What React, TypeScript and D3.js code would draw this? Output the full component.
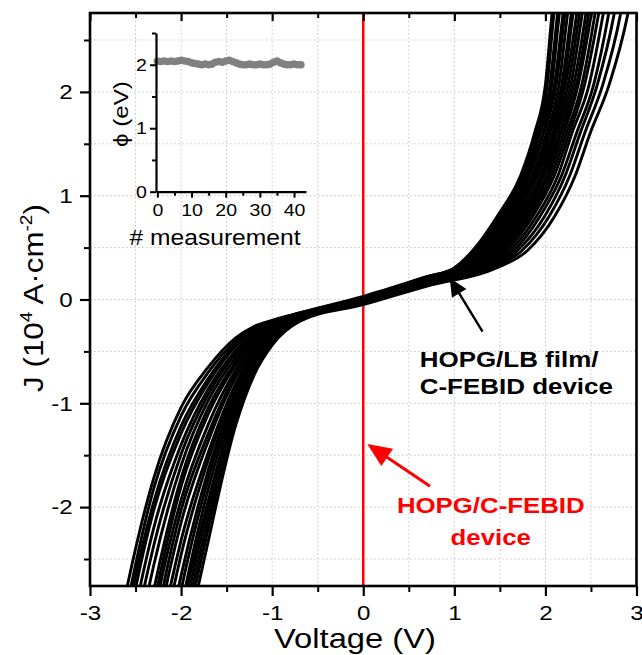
import React, { useEffect, useRef } from "react";
import * as d3 from "d3";

const W = 642;
const H = 655;
const FONT = "'Liberation Sans', Arial, Helvetica, sans-serif";
const SX = 1.15; // the figure's lettering is a bit wide

// main axes
const xMajor = [-3, -2, -1, 0, 1, 2, 3];
const xMinor = [-2.5, -1.5, -0.5, 0.5, 1.5, 2.5];
const yMajor = [-2, -1, 0, 1, 2];
const yMinor = [-2.5, -1.5, -0.5, 0.5, 1.5, 2.5];
const xGrid = [-2.5, -2, -1.5, -1, -0.5, 0, 0.5, 1, 1.5, 2, 2.5];
const yGrid = [-2.5, -2, -1.5, -1, -0.5, 0, 0.5, 1, 1.5, 2, 2.5];

// I-V sweeps: negative branch + middle read at these voltages (V)
const vGrid = [-2.9, -2.6, -2.3, -2.0, -1.7, -1.4, -1.2, -1.0, -0.7, 0, 0.7];
// J (10^4 A/cm2) of each sweep at vGrid
const negJ = [
  [-4.2, -2.8, -1.72, -1.04, -0.65, -0.37, -0.26, -0.2, -0.13, 0.02, 0.22],
  [-4.44, -2.98, -1.82, -1.12, -0.7, -0.4, -0.27, -0.21, -0.13, 0.03, 0.22],
  [-4.74, -3.1, -1.95, -1.22, -0.76, -0.43, -0.29, -0.22, -0.14, 0.01, 0.21],
  [-4.92, -3.24, -2.03, -1.29, -0.8, -0.45, -0.3, -0.22, -0.14, 0.0, 0.21],
  [-5.22, -3.46, -2.2, -1.4, -0.86, -0.49, -0.32, -0.23, -0.15, 0.01, 0.2],
  [-5.46, -3.66, -2.37, -1.49, -0.91, -0.52, -0.34, -0.24, -0.15, -0.01, 0.2],
  [-5.7, -3.9, -2.56, -1.6, -0.97, -0.56, -0.36, -0.25, -0.16, 0.0, 0.2],
  [-6.0, -4.2, -2.8, -1.72, -1.04, -0.6, -0.38, -0.26, -0.16, -0.02, 0.19],
  [-6.18, -4.38, -2.94, -1.8, -1.1, -0.63, -0.4, -0.26, -0.16, -0.01, 0.2],
  [-6.48, -4.68, -3.06, -1.93, -1.2, -0.68, -0.43, -0.28, -0.17, -0.02, 0.19],
  [-6.72, -4.92, -3.24, -2.03, -1.29, -0.72, -0.45, -0.29, -0.17, -0.03, 0.19],
  [-6.9, -5.1, -3.38, -2.15, -1.36, -0.75, -0.47, -0.3, -0.18, -0.02, 0.18],
  [-7.2, -5.4, -3.6, -2.32, -1.47, -0.81, -0.5, -0.31, -0.18, -0.03, 0.18],
  [-7.38, -5.58, -3.78, -2.46, -1.54, -0.84, -0.52, -0.32, -0.18, -0.02, 0.17],
  [-7.62, -5.82, -4.02, -2.66, -1.64, -0.89, -0.55, -0.34, -0.19, -0.04, 0.18],
  [-7.8, -6.0, -4.2, -2.8, -1.72, -0.92, -0.57, -0.35, -0.19, -0.03, 0.16],
  [-8.04, -6.24, -4.44, -2.98, -1.82, -0.97, -0.6, -0.36, -0.19, -0.04, 0.17],
  [-8.28, -6.48, -4.68, -3.06, -1.93, -1.02, -0.63, -0.38, -0.2, -0.03, 0.15],
  [-8.46, -6.66, -4.86, -3.2, -2.0, -1.06, -0.65, -0.4, -0.2, -0.04, 0.16],
  [-8.64, -6.84, -5.04, -3.33, -2.1, -1.11, -0.68, -0.41, -0.2, -0.03, 0.14],
  [-8.82, -7.02, -5.22, -3.46, -2.2, -1.16, -0.71, -0.43, -0.21, -0.04, 0.14],
  [-9.0, -7.2, -5.4, -3.6, -2.32, -1.21, -0.73, -0.44, -0.21, -0.05, 0.13],
];
// positive branch: voltage of each sweep where it reaches these J levels
const jLevels = [0.3, 0.47, 0.8, 1.2, 1.6, 2.07, 2.73, 3.5];
const posV = [
  [1.0, 1.22, 1.49, 1.75, 1.9, 2.02, 2.09, 2.2],
  [0.99, 1.2, 1.47, 1.73, 1.88, 2.0, 2.07, 2.17],
  [1.04, 1.26, 1.53, 1.79, 1.94, 2.07, 2.15, 2.26],
  [1.02, 1.24, 1.51, 1.77, 1.92, 2.05, 2.13, 2.23],
  [1.05, 1.28, 1.56, 1.81, 1.97, 2.1, 2.19, 2.29],
  [1.09, 1.33, 1.6, 1.86, 2.01, 2.15, 2.24, 2.35],
  [1.07, 1.3, 1.58, 1.83, 1.98, 2.12, 2.21, 2.32],
  [1.12, 1.37, 1.65, 1.9, 2.05, 2.2, 2.3, 2.42],
  [1.1, 1.35, 1.63, 1.88, 2.03, 2.18, 2.28, 2.39],
  [1.16, 1.42, 1.7, 1.95, 2.1, 2.25, 2.37, 2.49],
  [1.14, 1.39, 1.67, 1.92, 2.08, 2.22, 2.34, 2.45],
  [1.19, 1.46, 1.75, 1.99, 2.15, 2.31, 2.44, 2.56],
  [1.17, 1.44, 1.72, 1.97, 2.12, 2.28, 2.4, 2.52],
  [1.23, 1.51, 1.8, 2.04, 2.2, 2.36, 2.5, 2.63],
  [1.21, 1.49, 1.77, 2.02, 2.17, 2.34, 2.47, 2.59],
  [1.28, 1.57, 1.86, 2.1, 2.26, 2.43, 2.58, 2.72],
  [1.25, 1.54, 1.83, 2.07, 2.23, 2.4, 2.54, 2.67],
  [1.34, 1.65, 1.94, 2.18, 2.34, 2.53, 2.69, 2.83],
  [1.3, 1.61, 1.9, 2.14, 2.29, 2.48, 2.63, 2.77],
  [1.4, 1.74, 2.04, 2.27, 2.43, 2.63, 2.82, 2.96],
  [1.37, 1.69, 1.99, 2.22, 2.38, 2.57, 2.75, 2.89],
  [1.45, 1.8, 2.1, 2.33, 2.49, 2.7, 2.9, 3.05],
];

// inset: barrier height per measurement
const phi = [
  2.06, 2.05, 2.06, 2.05, 2.06, 2.05, 2.06, 2.07, 2.06, 2.05,
  2.03, 2.02, 2.01, 2.0, 2.01, 2.0, 2.01, 2.04, 2.05, 2.04,
  2.06, 2.07, 2.05, 2.03, 2.01, 2.0, 2.0, 2.01, 2.0, 2.0,
  2.01, 2.0, 2.0, 2.01, 2.04, 2.06, 2.03, 2.01, 2.0, 2.0,
  2.01, 2.0, 2.0,
];
const insetXMajor = [0, 10, 20, 30, 40];
const insetXMinor = [5, 15, 25, 35];
const insetYMajor = [0, 1, 2];
const insetYMinor = [0.5, 1.5, 2.5];

function arrow(g: any, tail: number[], tip: number[], len: number, half: number, color: string, sw: number) {
  const dx = tip[0] - tail[0], dy = tip[1] - tail[1];
  const L = Math.hypot(dx, dy);
  const ux = dx / L, uy = dy / L;
  const bx = tip[0] - ux * len, by = tip[1] - uy * len;
  g.append("line")
    .attr("x1", tail[0]).attr("y1", tail[1])
    .attr("x2", bx + ux * 2).attr("y2", by + uy * 2)
    .attr("stroke", color).attr("stroke-width", sw);
  g.append("path")
    .attr("d", `M${tip[0]},${tip[1]}L${bx - uy * half},${by + ux * half}L${bx + uy * half},${by - ux * half}Z`)
    .attr("fill", color);
}

export default function App() {
  const ref = useRef<SVGSVGElement>(null);

  useEffect(() => {
    const svg = d3.select(ref.current);
    svg.selectAll("*").remove();

    const left = 90, right = 636.5, top = 13, bottom = 586;
    const x = d3.scaleLinear().domain([-3, 3]).range([left, right]);
    const y = d3.scaleLinear().domain([-2.76, 2.76]).range([bottom, top]);

    svg.append("rect").attr("width", W).attr("height", H).attr("fill", "#fff");

    // dotted grid
    const grid = svg.append("g").attr("stroke", "#c4c4c4").attr("stroke-width", 1)
      .attr("stroke-dasharray", "1.5,2.5");
    grid.selectAll(".gx").data(xGrid).join("line")
      .attr("x1", d => x(d)).attr("x2", d => x(d)).attr("y1", top).attr("y2", bottom);
    grid.selectAll(".gy").data(yGrid).join("line")
      .attr("y1", d => y(d)).attr("y2", d => y(d)).attr("x1", left).attr("x2", right);

    svg.append("clipPath").attr("id", "plotclip").append("rect")
      .attr("x", left).attr("y", top).attr("width", right - left).attr("height", bottom - top);

    const plot = svg.append("g").attr("clip-path", "url(#plotclip)");

    // red vertical: HOPG/C-FEBID device
    plot.append("line")
      .attr("x1", x(0)).attr("x2", x(0)).attr("y1", top).attr("y2", bottom)
      .attr("stroke", "#ff0000").attr("stroke-width", 2.5);

    const line = d3.line<number[]>().x(d => x(d[0])).y(d => y(d[1])).curve(d3.curveMonotoneX);
    const sweeps = negJ.map((row, i) =>
      vGrid.map((v, k) => [v, row[k]]).concat(jLevels.map((j, k) => [posV[i][k], j]))
    );
    plot.selectAll(".sweep").data(sweeps).join("path")
      .attr("class", "sweep")
      .attr("d", d => line(d))
      .attr("fill", "none")
      .attr("stroke", "#000")
      .attr("stroke-width", 2.9)
      .attr("stroke-linejoin", "round");

    // axes
    const styleAxis = (a: any, sw: number) => {
      a.select(".domain").remove();
      a.selectAll("line").attr("stroke", "#000").attr("stroke-width", sw);
      a.selectAll("text").attr("font-family", FONT).attr("fill", "#000");
    };
    const fmt = (d: any) => String(d);

    const bMaj = svg.append("g").attr("transform", `translate(0,${bottom})`)
      .call(d3.axisBottom(x).tickValues(xMajor).tickSize(10).tickPadding(9).tickFormat(fmt));
    styleAxis(bMaj, 2.2);
    bMaj.selectAll("text").attr("font-size", 21).attr("transform", `scale(${SX},1)`);
    const bMin = svg.append("g").attr("transform", `translate(0,${bottom})`)
      .call(d3.axisBottom(x).tickValues(xMinor).tickSize(6).tickFormat(() => ""));
    styleAxis(bMin, 2);

    const tMaj = svg.append("g").attr("transform", `translate(0,${top})`)
      .call(d3.axisTop(x).tickValues(xMajor).tickSize(-8).tickFormat(() => ""));
    styleAxis(tMaj, 2.2);
    const tMin = svg.append("g").attr("transform", `translate(0,${top})`)
      .call(d3.axisTop(x).tickValues(xMinor).tickSize(-5).tickFormat(() => ""));
    styleAxis(tMin, 2);

    const lMaj = svg.append("g").attr("transform", `translate(${left},0)`)
      .call(d3.axisLeft(y).tickValues(yMajor).tickSize(10).tickPadding(5).tickFormat(fmt));
    styleAxis(lMaj, 2.2);
    lMaj.selectAll("text").attr("font-size", 21).attr("transform", `scale(${SX},1)`);
    const lMin = svg.append("g").attr("transform", `translate(${left},0)`)
      .call(d3.axisLeft(y).tickValues(yMinor).tickSize(6).tickFormat(() => ""));
    styleAxis(lMin, 2);

    svg.append("rect")
      .attr("x", left).attr("y", top).attr("width", right - left).attr("height", bottom - top)
      .attr("fill", "none").attr("stroke", "#000").attr("stroke-width", 2.6);

    // axis titles
    svg.append("text")
      .attr("transform", `translate(355,648) scale(${1.19},1)`)
      .attr("text-anchor", "middle").attr("font-family", FONT).attr("font-size", 27.5)
      .text("Voltage (V)");

    const yt = svg.append("text")
      .attr("transform", `translate(43,298) rotate(-90) scale(1.12,1)`)
      .attr("text-anchor", "middle").attr("font-family", FONT).attr("font-size", 28);
    yt.append("tspan").text("J (10");
    yt.append("tspan").attr("dy", -11).attr("font-size", 17).text("4");
    yt.append("tspan").attr("dy", 11).text(" A\u00b7cm");
    yt.append("tspan").attr("dy", -11).attr("font-size", 17).text("-2");
    yt.append("tspan").attr("dy", 11).text(")");

    // inset
    const xi = d3.scaleLinear().domain([-0.4, 43.5]).range([156, 306]);
    const yi = d3.scaleLinear().domain([0, 2.5]).range([191.7, 33]);
    const inset = svg.append("g");
    inset.selectAll("circle").data(phi).join("circle")
      .attr("cx", (_d, i) => xi(i)).attr("cy", d => yi(d)).attr("r", 3.8)
      .attr("fill", "#808080");

    const iyMaj = inset.append("g").attr("transform", "translate(156,0)")
      .call(d3.axisLeft(yi).tickValues(insetYMajor).tickSize(6).tickSizeOuter(0).tickPadding(2).tickFormat(fmt));
    iyMaj.select(".domain").attr("stroke", "#000").attr("stroke-width", 2.2);
    iyMaj.selectAll("line").attr("stroke", "#000").attr("stroke-width", 2);
    iyMaj.selectAll("text").attr("font-family", FONT).attr("font-size", 17).attr("fill", "#000")
      .attr("transform", `scale(${SX},1)`);
    const iyMin = inset.append("g").attr("transform", "translate(156,0)")
      .call(d3.axisLeft(yi).tickValues(insetYMinor).tickSize(4).tickFormat(() => ""));
    iyMin.select(".domain").remove();
    iyMin.selectAll("line").attr("stroke", "#000").attr("stroke-width", 2);

    const ixMaj = inset.append("g").attr("transform", "translate(0,191.7)")
      .call(d3.axisBottom(xi).tickValues(insetXMajor).tickSize(6).tickSizeOuter(0).tickPadding(6).tickFormat(fmt));
    ixMaj.select(".domain").attr("stroke", "#000").attr("stroke-width", 2.2);
    ixMaj.selectAll("line").attr("stroke", "#000").attr("stroke-width", 2);
    ixMaj.selectAll("text").attr("font-family", FONT).attr("font-size", 17).attr("fill", "#000")
      .attr("transform", `scale(${SX},1)`);
    const ixMin = inset.append("g").attr("transform", "translate(0,191.7)")
      .call(d3.axisBottom(xi).tickValues(insetXMinor).tickSize(4).tickFormat(() => ""));
    ixMin.select(".domain").remove();
    ixMin.selectAll("line").attr("stroke", "#000").attr("stroke-width", 2);

    inset.append("text")
      .attr("transform", `translate(215,245) scale(${1.12},1)`)
      .attr("text-anchor", "middle").attr("font-family", FONT).attr("font-size", 22)
      .text("# measurement");
    inset.append("text")
      .attr("transform", `translate(128,114) rotate(-90) scale(${SX},1)`)
      .attr("text-anchor", "middle").attr("font-family", FONT).attr("font-size", 21)
      .text("\u03d5 (eV)");

    // annotations
    const ann = svg.append("g");
    arrow(ann, [x(1.31), y(-0.31)], [x(0.95), y(0.207)], 18, 8.5, "#000", 2.4);
    const bt = ann.append("g").attr("font-family", FONT).attr("font-weight", "bold")
      .attr("font-size", 22).attr("fill", "#000");
    bt.append("text").attr("transform", `translate(${x(0.62)},${y(-0.65)}) scale(${1.18},1)`)
      .text("HOPG/LB film/");
    bt.append("text").attr("transform", `translate(${x(0.62)},${y(-0.915)}) scale(${1.18},1)`)
      .text("C-FEBID device");

    arrow(ann, [x(0.733), y(-1.8)], [x(0.044), y(-1.392)], 24, 10.5, "#ff0000", 3);
    const rt = ann.append("g").attr("font-family", FONT).attr("font-weight", "bold")
      .attr("font-size", 21.5).attr("fill", "#ff0000").attr("text-anchor", "middle");
    rt.append("text").attr("transform", `translate(${x(1.4)},${y(-2.06)}) scale(${1.2},1)`)
      .text("HOPG/C-FEBID");
    rt.append("text").attr("transform", `translate(${x(1.4)},${y(-2.365)}) scale(${1.2},1)`)
      .text("device");
  }, []);

  return (
    <svg ref={ref} width={W} height={H} style={{ position: "absolute", left: 0, top: 0 }} />
  );
}
